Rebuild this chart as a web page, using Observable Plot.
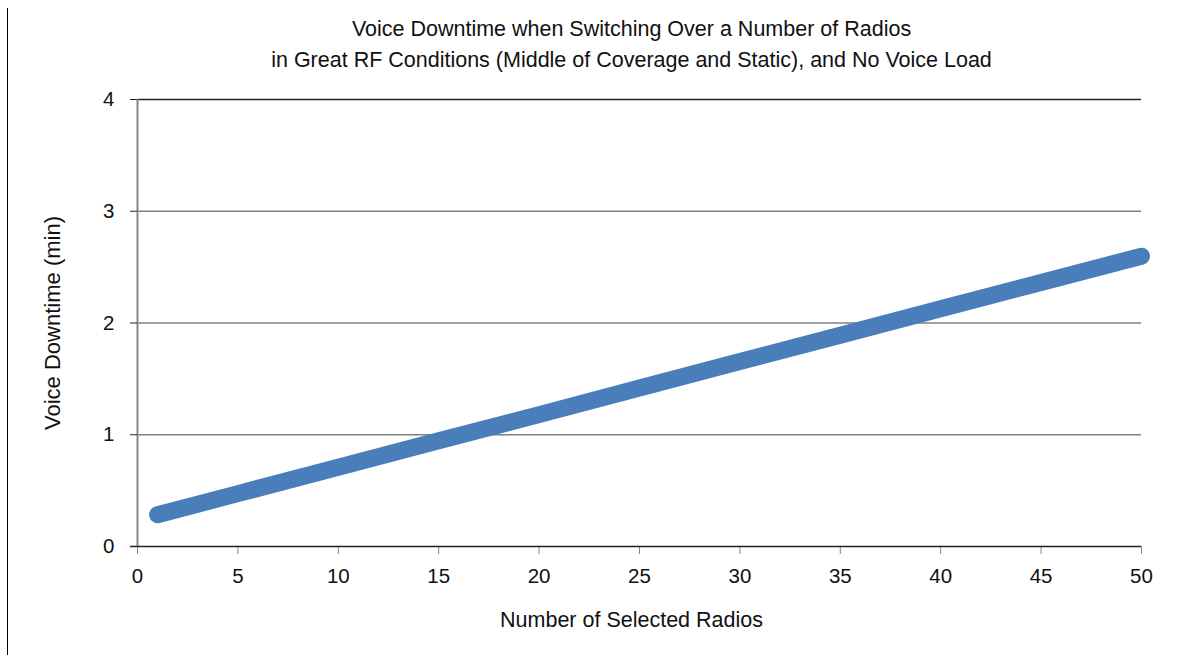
<!DOCTYPE html>
<html>
<head>
<meta charset="utf-8">
<script src="https://cdn.jsdelivr.net/npm/d3@7"></script>
<script src="https://cdn.jsdelivr.net/npm/@observablehq/plot@0.6"></script>
<style>
  html, body { margin: 0; padding: 0; background: #fff; }
  #wrap { position: relative; width: 1178px; height: 658px; overflow: hidden; }
  #border { position: absolute; left: 7px; top: 8px; height: 647px; border-left: 1.5px solid #000; }
  #wrap svg { position: absolute; left: 0; top: 0; }
</style>
</head>
<body>
<div id="wrap"><div id="border"></div></div>
<script>
const titleLines = [
  "Voice Downtime when Switching Over a Number of Radios",
  "in Great RF Conditions (Middle of Coverage and Static), and No Voice Load"
];
const xLabel = "Number of Selected Radios";
const yLabel = "Voice Downtime (min)";
const radios = [1, 5, 10, 15, 20, 25, 30, 35, 40, 45, 50];
const downtime = [0.284, 0.473, 0.71, 0.946, 1.18, 1.418, 1.655, 1.89, 2.127, 2.363, 2.598];
const xTicks = [0, 5, 10, 15, 20, 25, 30, 35, 40, 45, 50];
const yTicks = [0, 1, 2, 3, 4];

const data = radios.map((r, i) => ({x: r, y: downtime[i]}));
const font = "'Liberation Sans', Arial, sans-serif";
const fs = 20.5;
const ft = 21.5;

const chart = Plot.plot({
  width: 1178,
  height: 658,
  marginLeft: 137,
  marginRight: 37,
  marginTop: 99,
  marginBottom: 112,
  style: {fontFamily: font, fontSize: fs + "px", color: "#111", background: "transparent"},
  x: {domain: [0, 50], ticks: xTicks, label: null},
  y: {domain: [0, 4], ticks: yTicks, label: null},
  marks: [
    Plot.ruleY(yTicks.filter(d => d > 0 && d < 4), {stroke: "#808080", strokeWidth: 1.3}),
    Plot.ruleY([4], {stroke: "#222", strokeWidth: 1.3}),
    Plot.ruleX([0], {stroke: "#888", strokeWidth: 2}),
    Plot.axisY({ticks: yTicks, tickSize: 7, tickPadding: 16, stroke: "#222", tickFormat: d => d, fontSize: fs, label: null}),
    Plot.axisX({ticks: xTicks, tickSize: 8, tickPadding: 14, stroke: "#888", tickFormat: d => d, fontSize: fs, label: null}),
    Plot.ruleY([0], {x1: -0.35, x2: 50, stroke: "#222", strokeWidth: 1.5, clip: false}),
    Plot.line(data, {x: "x", y: "y", stroke: "#4a7ebb", strokeWidth: 17, strokeLinecap: "round", strokeLinejoin: "round"}),
    Plot.text([titleLines[0]], {frameAnchor: "top", dy: -79, fontSize: ft, fill: "#111", dx: -8}),
    Plot.text([titleLines[1]], {frameAnchor: "top", dy: -48, fontSize: ft, fill: "#111", dx: -8}),
    Plot.text([xLabel], {frameAnchor: "bottom", dy: 80, fontSize: ft, fill: "#111", dx: -8}),
    Plot.text([yLabel], {frameAnchor: "left", textAnchor: "middle", dx: -85, rotate: -90, fontSize: ft + 0.5, fill: "#111", dy: 0})
  ]
});
document.getElementById("wrap").appendChild(chart);
</script>
</body>
</html>
